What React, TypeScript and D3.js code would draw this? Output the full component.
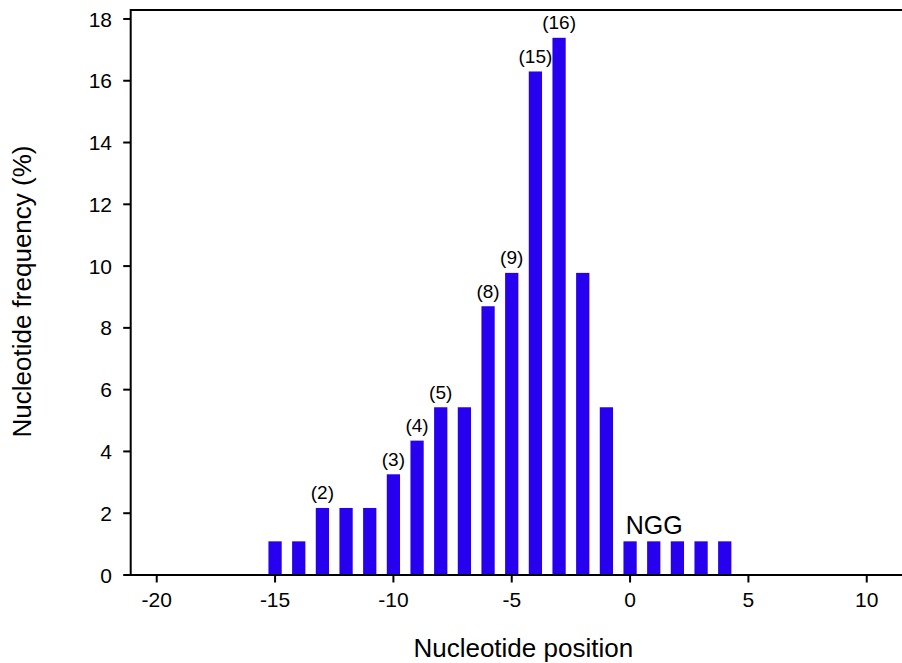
import React from "react";
import * as d3 from "d3";

const positions = [-15, -14, -13, -12, -11, -10, -9, -8, -7, -6, -5, -4, -3, -2, -1, 0, 1, 2, 3, 4];
const frequencies = [1.09, 1.09, 2.17, 2.17, 2.17, 3.26, 4.35, 5.43, 5.43, 8.7, 9.78, 16.3, 17.39, 9.78, 5.43, 1.09, 1.09, 1.09, 1.09, 1.09];
const countLabels = ["", "", "(2)", "", "", "(3)", "(4)", "(5)", "", "(8)", "(9)", "(15)", "(16)", "", "", "", "", "", "", ""];
const yTicks = [0, 2, 4, 6, 8, 10, 12, 14, 16, 18];
const xTicks = [-20, -15, -10, -5, 0, 5, 10];
const xTitle = "Nucleotide position";
const yTitle = "Nucleotide frequency (%)";
const motifLabel = "NGG";

const W = 902;
const H = 663;
const FONT = "'Liberation Sans', Arial, sans-serif";
const BAR = "#2800F0";

export default function App() {
  const x = d3.scaleLinear().domain([-21.1, 12.5]).range([130.7, 130.7 + 33.6 * 23.667]);
  const y = d3.scaleLinear().domain([0, 18.29]).range([575, 10]);
  const bw = 0.56 * 23.667;
  const [x0, x1] = x.range();
  const [y0, y1] = y.range();

  return (
    <svg width={W} height={H} style={{ position: "absolute", left: 0, top: 0, background: "#fff" }} fontFamily={FONT}>
      <rect x={0} y={0} width={W} height={H} fill="#fff" />
      {positions.map((p, i) => (
        <rect key={p} x={x(p) - bw / 2} y={y(frequencies[i])} width={bw} height={y(0) - y(frequencies[i])} fill={BAR} />
      ))}
      {positions.map((p, i) =>
        countLabels[i] ? (
          <text key={"l" + p} x={x(p)} y={y(frequencies[i]) - 8.5} textAnchor="middle" fontSize={19} fill="#000">
            {countLabels[i]}
          </text>
        ) : null
      )}
      <text x={x(0) - 4.3} y={534} fontSize={25} fill="#000">{motifLabel}</text>
      {/* axes */}
      <line x1={x0} y1={y0} x2={x1} y2={y0} stroke="#000" strokeWidth={2} />
      <line x1={x0} y1={y1} x2={x1} y2={y1} stroke="#000" strokeWidth={2} />
      <line x1={x0} y1={y0 + 1} x2={x0} y2={y1 - 1} stroke="#000" strokeWidth={2} />
      {yTicks.map((t) => (
        <g key={"y" + t}>
          <line x1={x0 - 7.5} x2={x0} y1={y(t)} y2={y(t)} stroke="#000" strokeWidth={2} />
          <text x={112} y={y(t)} dy="0.36em" textAnchor="end" fontSize={21} fill="#000">{t}</text>
        </g>
      ))}
      {xTicks.map((t) => (
        <g key={"x" + t}>
          <line x1={x(t)} x2={x(t)} y1={y0} y2={y0 + 7.5} stroke="#000" strokeWidth={2} />
          <text x={x(t)} y={607} textAnchor="middle" fontSize={21} fill="#000">{t}</text>
        </g>
      ))}
      <text x={523.3} y={657} textAnchor="middle" fontSize={26} fill="#000">{xTitle}</text>
      <text transform="translate(31,291.5) rotate(-90)" textAnchor="middle" fontSize={26} fill="#000">{yTitle}</text>
    </svg>
  );
}
